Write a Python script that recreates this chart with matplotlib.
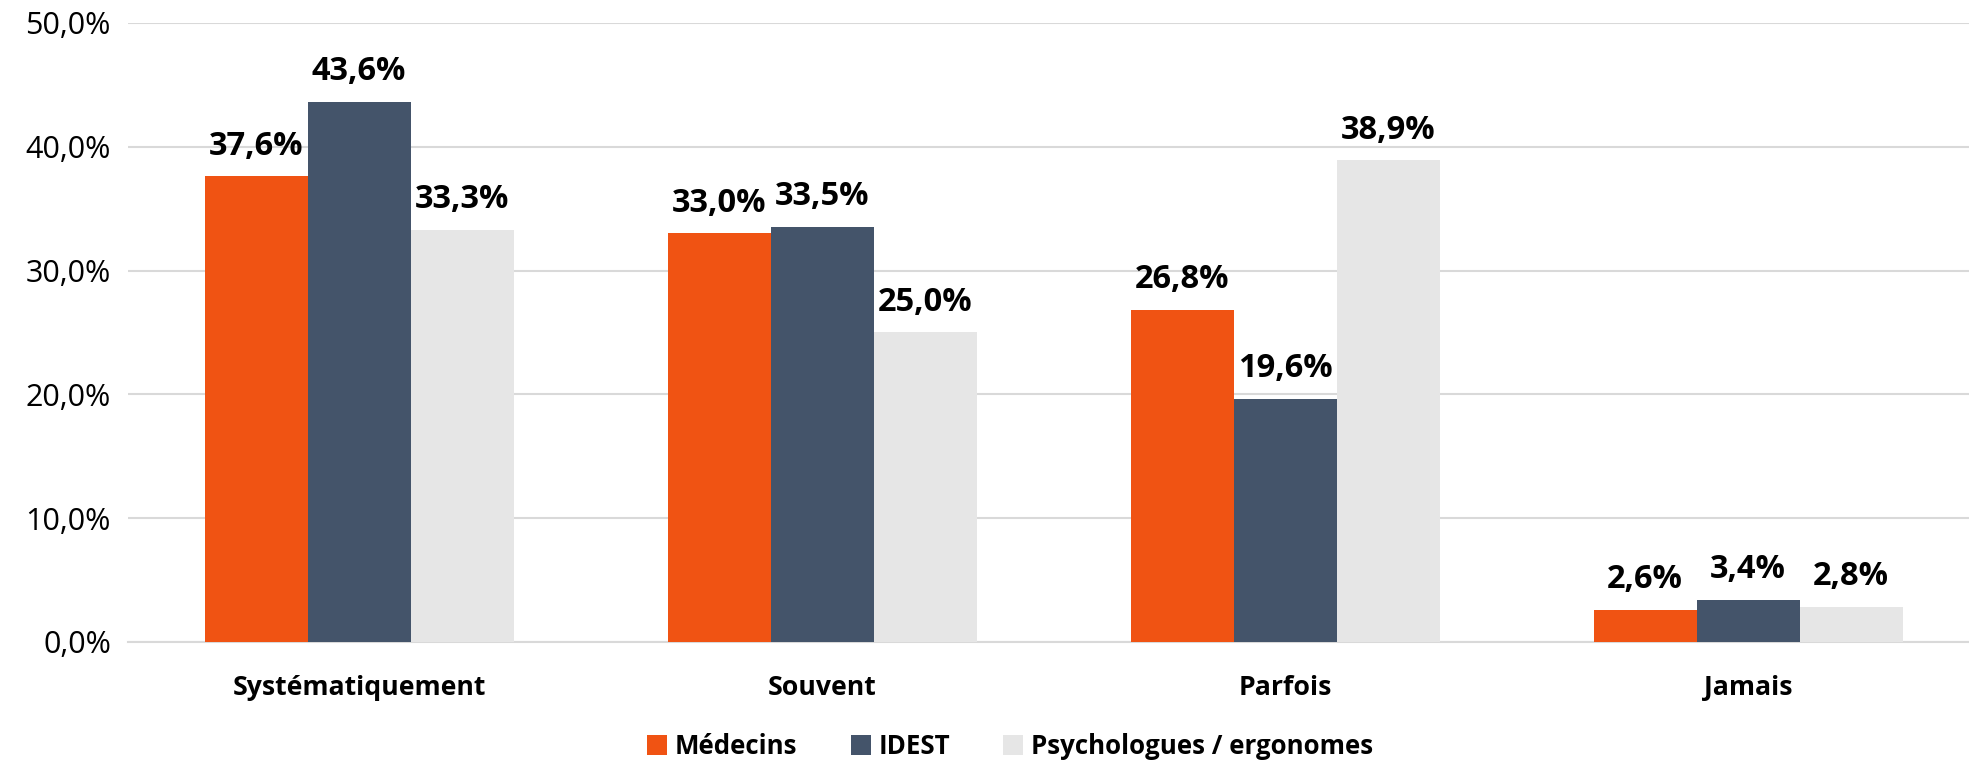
import matplotlib
matplotlib.use("Agg")
import matplotlib.pyplot as plt
import numpy as np
from matplotlib.ticker import FuncFormatter, MultipleLocator

plt.rcParams['font.family'] = ['Open Sans', 'DejaVu Sans']

categories = ["Systématiquement", "Souvent", "Parfois", "Jamais"]
series_names = ["Médecins", "IDEST", "Psychologues / ergonomes"]
medecins = [37.6, 33.0, 26.8, 2.6]
idest = [43.6, 33.5, 19.6, 3.4]
psy = [33.3, 25.0, 38.9, 2.8]
colors = ["#F05313", "#44546A", "#E6E6E6"]

fig = plt.figure(figsize=(19.69, 7.61), dpi=100)
ax = fig.add_axes([0.0648, 0.1564, 0.9406, 0.8134])

x = np.arange(len(categories))
w = 0.2225
for i, (vals, name, c) in enumerate(zip([medecins, idest, psy], series_names, colors)):
    bars = ax.bar(x + (i - 1) * w, vals, width=w, color=c, label=name, zorder=3)
    ax.bar_label(bars, labels=[f"{v:.1f}%".replace(".", ",") for v in vals],
                 padding=10, fontsize=23.5, fontweight='bold', color='black')

ax.set_xlim(-0.5, len(categories) - 0.5)
ax.set_ylim(0, 50)
ax.yaxis.set_major_locator(MultipleLocator(10))
ax.yaxis.set_major_formatter(FuncFormatter(lambda v, p: f"{v:.1f}%".replace(".", ",")))
ax.grid(axis='y', color='#D9D9D9', linewidth=1.5, zorder=0)
for s in ['top', 'right', 'left']:
    ax.spines[s].set_visible(False)
ax.spines['bottom'].set_color('#D9D9D9')
ax.spines['bottom'].set_linewidth(1.5)
ax.set_xticks(x)
ax.set_xticklabels(categories, fontsize=19.2, fontweight='bold')
ax.tick_params(axis='x', length=0, pad=24)
ax.tick_params(axis='y', length=0, labelsize=22, pad=12)

fig.legend(loc='center', bbox_to_anchor=(0.513, 0.019), ncol=3, frameon=False,
           prop={'size': 18.6, 'weight': 'bold'}, handlelength=0.78, handleheight=0.78,
           handletextpad=0.3, columnspacing=2.05)

fig.savefig("out.png", dpi=100)
